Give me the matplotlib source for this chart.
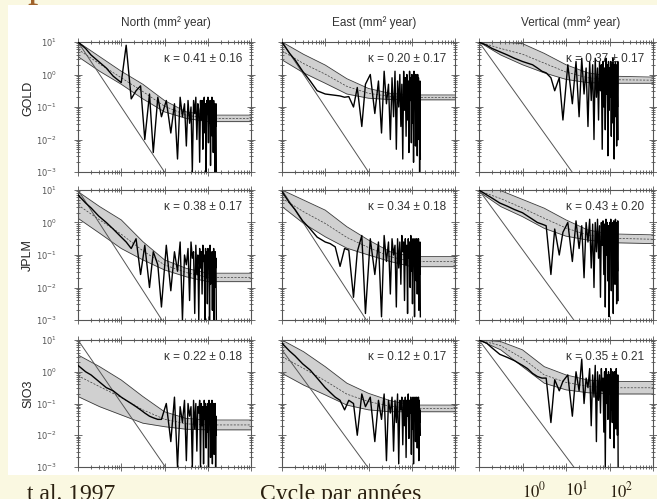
import numpy as np
import matplotlib
matplotlib.use("Agg")
import matplotlib.pyplot as plt
from matplotlib.patches import Rectangle
from matplotlib.ticker import LogLocator, NullFormatter

# ---------------- data ----------------
stations = ["GOLD", "JPLM", "SIO3"]
components = ["North (mm² year)", "East (mm² year)", "Vertical (mm² year)"]
kappa = [[0.41, 0.20, 0.37], [0.38, 0.34, 0.43], [0.22, 0.12, 0.35]]
kappa_err = [[0.16, 0.17, 0.17], [0.17, 0.18, 0.20], [0.18, 0.17, 0.21]]

# model band (log10 power) at log10 frequency nodes
band_logf = [-1, -0.5, 0, 0.5, 1, 1.5, 2, 3]
band_up = [
    [[1.0, 0.55, 0.1, -0.3, -0.8, -1.15, -1.25, -1.25],
     [1.0, 0.62, 0.29, -0.13, -0.43, -0.58, -0.63, -0.63],
     [1.0, 1.0, 0.95, 0.65, 0.3, 0.05, -0.05, -0.08]],
    [[0.95, 0.49, 0.08, -0.59, -1.15, -1.41, -1.56, -1.56],
     [1.0, 0.69, 0.38, -0.13, -0.54, -0.9, -1.05, -1.05],
     [1.0, 0.98, 0.71, 0.44, 0.08, -0.23, -0.35, -0.38]],
    [[0.53, 0.16, -0.26, -0.78, -1.26, -1.47, -1.52, -1.52],
     [1.0, 0.63, 0.16, -0.36, -0.68, -0.91, -1.05, -1.05],
     [1.0, 0.95, 0.69, 0.16, -0.1, -0.26, -0.31, -0.31]],
]
band_lo = [
    [[0.55, 0.1, -0.3, -0.75, -1.15, -1.35, -1.45, -1.45],
     [0.45, 0.05, -0.27, -0.6, -0.73, -0.77, -0.78, -0.78],
     [1.0, 0.6, 0.3, 0.05, -0.15, -0.25, -0.27, -0.27]],
    [[0.13, -0.33, -0.8, -1.15, -1.46, -1.67, -1.82, -1.82],
     [0.49, -0.03, -0.44, -0.79, -1.0, -1.2, -1.36, -1.36],
     [0.95, 0.49, 0.18, -0.18, -0.42, -0.54, -0.62, -0.65]],
    [[-0.78, -1.1, -1.36, -1.62, -1.73, -1.81, -1.83, -1.83],
     [-0.05, -0.42, -0.73, -1.05, -1.2, -1.26, -1.26, -1.26],
     [1.0, 0.69, 0.16, -0.36, -0.57, -0.66, -0.7, -0.7]],
]

# random-walk reference line: log10 power at f=0.1, log10 f where it reaches 1e-3
rw_start = [[1.0, 1.0, 1.0], [1.0, 1.0, 1.0], [1.0, 0.69, 1.0]]
rw_end = [[1.0, 1.0, 1.14], [0.94, 0.95, 1.18], [1.02, 0.98, 1.18]]

# observed spectra (log10 power, mm^2/yr)
freq_low = [0.1, 0.15, 0.2, 0.3, 0.45, 0.65, 1.0, 1.3, 1.7, 2.2, 2.8, 3.5, 4.5, 5.5, 7.0, 8.5]
freq_dense = np.arange(11, 159, 3)  # cycles / year

spec_low = [
    [[1.0, 0.8, 0.6, 0.4, 0.2, -0.05, -0.25, 0.9, -0.75, -0.5, -0.35, -2.0, -0.6, -2.4, -0.7, -1.3],
     [1.0, 0.65, 0.45, 0.1, -0.2, -0.5, -0.6, -0.62, -0.64, -0.66, -0.7, -0.68, -1.0, -0.4, -1.6, -0.3],
     [1.0, 0.9, 0.8, 0.7, 0.6, 0.5, 0.4, 0.35, 0.3, 0.2, 0.1, 0.05, -0.1, -0.5, -0.1, -1.4]],
    [[0.85, 0.6, 0.45, 0.2, 0.0, -0.2, -0.45, -0.6, -0.8, -0.5, -1.6, -0.7, -2.0, -0.9, -1.3, -2.6],
     [0.95, 0.6, 0.4, 0.05, -0.2, -0.45, -0.6, -0.65, -0.75, -1.35, -0.8, -0.85, -2.3, -0.9, -0.4, -2.8],
     [1.0, 0.85, 0.75, 0.6, 0.5, 0.4, 0.3, 0.2, 0.1, 0.0, -0.05, -0.1, -1.6, -0.2, -1.0, -0.3]],
    [[0.2, 0.0, -0.1, -0.3, -0.5, -0.6, -0.8, -0.9, -1.0, -1.1, -1.2, -1.3, -1.4, -1.45, -1.5, -1.5],
     [0.9, 0.65, 0.5, 0.25, 0.05, -0.2, -0.5, -0.65, -0.8, -0.9, -1.2, -0.9, -1.0, -2.0, -0.7, -1.1],
     [1.0, 0.9, 0.75, 0.55, 0.45, 0.35, 0.2, 0.1, -0.05, -0.15, -0.2, -0.2, -1.6, -0.25, -0.6, -0.3]],
]

spec_dense = [
    [[-0.8, -1.8, -0.9, -2.6, -0.7, -1.3, -0.9, -2.2, -0.8, -1.5,
      -1.0, -3.0, -0.8, -1.2, -0.7, -2.0, -0.9, -1.1, -2.7, -0.8,
      -1.4, -0.8, -2.3, -1.0, -0.7, -1.8, -0.9, -3.0, -0.8, -1.2,
      -0.7, -2.1, -1.0, -1.5, -0.8, -2.8, -0.9, -1.1, -0.7, -1.9,
      -1.0, -2.4, -0.8, -1.3, -0.9, -3.0, -1.0, -1.6, -0.9, -3.0],
     [0.0, -1.2, -0.2, -1.8, 0.1, -0.9, -0.3, -2.0, -0.1, -1.3,
      0.1, -2.3, -0.2, -1.0, 0.0, -1.6, -0.3, -2.6, 0.1, -1.1,
      -0.1, -1.9, 0.0, -1.4, -0.2, -2.4, 0.1, -0.8, -0.1, -2.1,
      0.0, -1.5, -0.2, -2.7, 0.1, -1.0, -0.1, -2.2, 0.0, -1.6,
      -0.2, -2.5, 0.0, -1.2, -0.1, -2.0, -0.3, -3.0, -0.2, -2.6],
     [0.3, -0.9, 0.4, -1.3, 0.5, -0.6, 0.2, -1.6, 0.4, -0.8,
      0.3, -2.0, 0.5, -0.7, 0.2, -1.4, 0.4, -0.5, 0.3, -2.3,
      0.4, -1.0, 0.2, -1.7, 0.5, -0.6, 0.3, -2.5, 0.4, -1.1,
      0.2, -0.7, 0.4, -1.9, 0.3, -0.9, 0.5, -1.5, 0.2, -2.6,
      0.3, -0.8, 0.4, -1.3, 0.2, -2.2, 0.3, -1.0, 0.4, -2.0]],
    [[-0.7, -2.1, -0.9, -1.5, -0.6, -3.0, -1.0, -1.3, -0.8, -2.4,
      -0.6, -1.1, -0.9, -2.8, -0.7, -1.6, -1.0, -3.0, -0.8, -1.4,
      -0.9, -2.2, -0.7, -1.2, -1.0, -3.0, -0.8, -1.7, -0.9, -2.5,
      -0.8, -1.3, -1.0, -3.0, -0.7, -1.9, -0.9, -1.2, -1.0, -2.7,
      -0.9, -1.5, -0.8, -3.0, -1.0, -2.0, -0.9, -1.4, -1.1, -3.0],
     [-0.5, -1.6, -0.6, -2.9, -0.4, -1.2, -0.6, -2.2, -0.5, -1.0,
      -0.7, -2.6, -0.5, -1.4, -0.6, -1.9, -0.4, -0.9, -0.6, -2.4,
      -0.5, -1.3, -0.7, -2.8, -0.5, -1.1, -0.6, -2.0, -0.4, -1.5,
      -0.6, -2.5, -0.5, -1.2, -0.7, -2.9, -0.5, -1.0, -0.6, -1.8,
      -0.5, -2.2, -0.6, -1.3, -0.5, -2.7, -0.7, -1.6, -0.6, -2.9],
     [0.0, -1.2, 0.05, -0.8, -0.1, -1.7, 0.0, -0.6, 0.1, -1.4,
      -0.05, -2.0, 0.0, -0.9, 0.1, -1.1, -0.1, -2.3, 0.0, -0.7,
      0.05, -1.6, -0.05, -2.6, 0.1, -1.0, 0.0, -1.8, -0.1, -2.9,
      0.0, -0.8, 0.1, -2.1, -0.05, -1.3, 0.0, -2.8, 0.05, -1.1,
      0.0, -1.9, 0.1, -1.2, -0.1, -2.5, 0.0, -1.5, 0.05, -2.4]],
    [[-1.0, -2.2, -0.8, -3.0, -1.1, -1.6, -0.9, -2.8, -1.0, -1.4,
      -1.1, -3.0, -0.9, -1.8, -1.0, -2.5, -1.1, -1.3, -0.9, -3.0,
      -1.0, -1.7, -1.1, -2.9, -0.9, -1.5, -1.0, -2.4, -1.1, -1.9,
      -1.0, -3.0, -0.9, -1.6, -1.1, -2.7, -1.0, -1.4, -0.9, -2.9,
      -1.1, -1.8, -1.0, -2.6, -1.1, -1.5, -1.0, -3.0, -1.4, -2.0],
     [-0.8, -2.2, -0.9, -1.5, -0.7, -2.8, -0.9, -1.3, -0.8, -2.5,
      -0.9, -1.6, -0.7, -2.9, -0.9, -1.2, -0.8, -2.3, -0.9, -1.7,
      -0.8, -2.7, -0.9, -1.4, -0.7, -2.1, -0.9, -1.3, -0.8, -2.6,
      -0.9, -1.8, -0.8, -2.9, -0.9, -1.4, -0.8, -2.2, -0.9, -1.5,
      -0.8, -2.4, -0.9, -1.3, -0.8, -2.8, -0.9, -1.6, -1.2, -2.0],
     [-0.1, -1.4, 0.0, -0.6, 0.4, -1.0, -0.2, -0.5, 0.1, -1.7,
      -0.1, -0.8, 0.2, -2.2, 0.0, -0.9, -0.1, -1.3, 0.1, -0.6,
      -0.2, -1.9, 0.0, -3.0, 0.1, -1.0, -0.1, -1.5, 0.0, -0.7,
      -0.1, -2.1, 0.1, -1.2, -0.2, -1.6, 0.0, -0.8, -0.1, -2.4,
      0.0, -1.1, -0.1, -1.8, 0.1, -0.9, -0.2, -2.0, -0.1, -3.0]],
]

ytick_vals = [1e-3, 1e-2, 1e-1, 1e0, 1e1]
ytick_labels = [r"$10^{-3}$", r"$10^{-2}$", r"$10^{-1}$", r"$10^{0}$", r"$10^{1}$"]

# ---------------- figure ----------------
W, H = 657, 499
fig = plt.figure(figsize=(W / 100, H / 100), dpi=100)
fig.patch.set_facecolor("#FAF8E1")
fig.patches.append(Rectangle((8 / W, 1 - 475 / H), 1 - 8 / W, (475 - 5) / H,
                             transform=fig.transFigure, facecolor="white",
                             edgecolor="none", zorder=-10))

col_x = [(78, 251), (282, 455), (479, 653)]
row_y = [(42, 172), (190, 320), (340, 467)]
sans = ["Liberation Sans", "DejaVu Sans"]

bf = 10.0 ** np.array(band_logf)
for i in range(3):
    for j in range(3):
        x0, x1 = col_x[j]
        y0, y1 = row_y[i]
        ax = fig.add_axes([x0 / W, 1 - y1 / H, (x1 - x0) / W, (y1 - y0) / H])
        ax.set_zorder(2)
        ax.set_facecolor("white")
        ax.set_xscale("log")
        ax.set_yscale("log")
        ax.set_xlim(0.1, 1000)
        ax.set_ylim(1e-3, 10)

        up = 10.0 ** np.array(band_up[i][j])
        lo = 10.0 ** np.array(band_lo[i][j])
        mid = 10.0 ** ((np.array(band_up[i][j]) + np.array(band_lo[i][j])) / 2)
        ax.fill_between(bf, lo, up, color="#d0d0d0", lw=0, zorder=1)
        ax.plot(bf, up, color="#3a3a3a", lw=0.6, zorder=2)
        ax.plot(bf, lo, color="#3a3a3a", lw=0.6, zorder=2)
        ax.plot(bf, mid, color="#3a3a3a", lw=0.5, ls=(0, (3, 2)), zorder=2)

        ax.plot([0.1, 10 ** rw_end[i][j]], [10 ** rw_start[i][j], 1e-3],
                color="#555555", lw=0.7, zorder=2)

        f = np.concatenate([freq_low, freq_dense])
        p = 10.0 ** np.concatenate([spec_low[i][j], spec_dense[i][j]])
        ax.plot(f, p, color="black", lw=1.0, zorder=3)

        ax.text(0.95, 0.87, f"κ = {kappa[i][j]:.2f} ± {kappa_err[i][j]:.2f}",
                transform=ax.transAxes, ha="right", va="center",
                fontsize=8.5, color="#333333", family=sans, zorder=5)

        for s in ax.spines.values():
            s.set_color("#555555")
            s.set_linewidth(0.8)
        ax.xaxis.set_major_locator(LogLocator(base=10, numticks=10))
        ax.xaxis.set_minor_locator(LogLocator(base=10, subs=np.arange(2, 10), numticks=40))
        ax.xaxis.set_major_formatter(NullFormatter())
        ax.xaxis.set_minor_formatter(NullFormatter())
        ax.yaxis.set_minor_locator(LogLocator(base=10, subs=np.arange(2, 10), numticks=40))
        ax.yaxis.set_minor_formatter(NullFormatter())
        ax.set_yticks(ytick_vals)
        if j == 0:
            ax.set_yticklabels(ytick_labels, fontsize=6, color="#444444")
        else:
            ax.set_yticklabels([])
        ax.tick_params(which="both", direction="inout", top=True, right=True,
                       colors="#555555", width=0.6, pad=12)
        ax.tick_params(which="major", length=6)
        ax.tick_params(which="minor", length=2.5)

# column titles
for j, (xc) in enumerate([166, 374, 571]):
    fig.text(xc / W, 1 - 23 / H, components[j], ha="center", va="center",
             fontsize=8.5, color="#333333", family=sans)

# row labels
for i, yc in enumerate([98, 255, 394]):
    fig.text(28 / W, 1 - yc / H, stations[i], rotation=90, ha="center", va="center",
             fontsize=9, color="#222222", family=sans)

# slide text around the figure
serif = ["Liberation Serif", "DejaVu Serif"]
fig.text(27 / W, 1 + 4 / H, "p", ha="left", va="baseline", fontsize=30,
         color="#A0622A", family=serif)
fig.text(27 / W, -1 / H, "t al. 1997", ha="left", va="baseline", fontsize=17,
         color="#2A2010", family=serif)
fig.text(341 / W, -1 / H, "Cycle par années", ha="center", va="baseline", fontsize=17,
         color="#2A2010", family=serif)
for xc, lab in zip([534, 577, 621], [r"$10^{0}$", r"$10^{1}$", r"$10^{2}$"]):
    fig.text(xc / W, 1 - 497 / H, lab, ha="center", va="baseline", fontsize=12,
             color="#2A2010", family=serif, math_fontfamily="stix")

fig.savefig("out.png", dpi=100, facecolor=fig.get_facecolor())
